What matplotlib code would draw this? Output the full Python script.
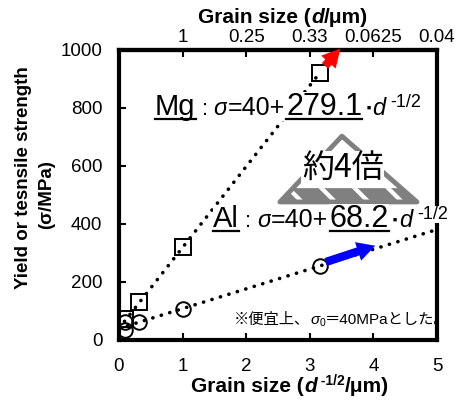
import matplotlib
matplotlib.use('Agg')
import matplotlib.pyplot as plt
from matplotlib.transforms import IdentityTransform
from matplotlib.lines import Line2D
from matplotlib.patches import Polygon, FancyArrowPatch

plt.rcParams['font.family'] = ['Liberation Sans', 'Noto Sans CJK JP']
plt.rcParams['hatch.linewidth'] = 3.0

# measured points
mg_x = [0.1, 0.32, 1.0, 3.16]
mg_y = [72, 130, 320, 921]
al_x = [0.1, 0.1, 0.32, 1.0, 3.16]
al_y = [33, 62, 62, 107, 256]

# Hall-Petch fits (sigma0 = 40)
mg_fit_x = [0, 3.16]
mg_fit_y = [40, 922]
al_fit_x = [0, 5]
al_fit_y = [40, 381]

x_ticks = [0, 1, 2, 3, 4, 5]
y_ticks = [0, 200, 400, 600, 800, 1000]
top_ticks = [1, 2, 3, 4, 5]
top_labels = ['1', '0.25', '0.33', '0.0625', '0.04']

red_arrow = [(3.21, 938), (3.51, 1012)]
blue_arrow = [(3.21, 266), (4.07, 328)]

W, H = 472, 400
fig = plt.figure(figsize=(W / 100, H / 100), dpi=100)
ax = fig.add_axes([119 / W, 60 / H, 318 / W, 290 / H])
renderer = fig.canvas.get_renderer()


def rich(target, x, y, pieces, ha='left', zorder=5, bg=True):
    # pieces: (text, size, options) laid out one after another on one baseline, pixel coords
    cx = x
    made = []
    for s, size, opts in pieces:
        opts = dict(opts)
        dy = opts.pop('dy', 0)
        gap = opts.pop('gap', 0)
        ul = opts.pop('ul', False)
        cx += gap
        kw = dict(transform=IdentityTransform(), fontsize=size, va='baseline', ha='left',
                  zorder=zorder, clip_on=False)
        if bg:
            kw['bbox'] = dict(facecolor='white', edgecolor='none', pad=0.3)
        kw.update(opts)
        t = target.text(cx, y + dy, s, **kw)
        bb = t.get_window_extent(renderer)
        made.append((t, ul, bb))
        cx = bb.x1
    shift = -(cx - x) / 2 if ha == 'center' else 0
    for t, ul, bb in made:
        px, py = t.get_position()
        t.set_position((px + shift, py))
        if ul:
            fig.add_artist(Line2D([bb.x0 + shift, bb.x1 + shift], [y - 4, y - 4],
                                  transform=IdentityTransform(), color='black', lw=1.6,
                                  zorder=zorder + 1))


dots = dict(color='black', lw=2.6, linestyle=(0, (0.05, 2.4)), dash_capstyle='round', zorder=2)
ax.plot(mg_fit_x, mg_fit_y, **dots)
ax.plot(al_fit_x, al_fit_y, **dots)
ax.plot(mg_x, mg_y, 's', ms=11, mfc='none', mec='black', mew=1.4, zorder=3)
ax.plot(al_x, al_y, 'o', ms=10.5, mfc='none', mec='black', mew=1.4, zorder=3)

for (p0, p1), col in [(red_arrow, 'red'), (blue_arrow, 'blue')]:
    ax.add_patch(FancyArrowPatch(p0, p1, arrowstyle='simple,head_length=13,head_width=14,tail_width=6',
                                 mutation_scale=1, color=col, lw=0, clip_on=False, zorder=6))

ax.set_xlim(0, 5)
ax.set_ylim(0, 1000)
ax.set_xticks(x_ticks)
ax.set_yticks(y_ticks)
ax.tick_params(direction='in', length=5, width=1.5, labelsize=13.5, pad=13)
ax.tick_params(axis='y', pad=12)
for sp in ax.spines.values():
    sp.set_linewidth(3)

top = ax.secondary_xaxis('top')
top.set_xticks(top_ticks, labels=top_labels)
top.tick_params(direction='in', length=5, width=1.5, labelsize=13.5, pad=3)
top.spines['top'].set_linewidth(3)

# triangle badge
apex, left, right = (0.701, 0.703), (0.506, 0.476), (0.937, 0.476)
band = 0.21
bl = (left[0] + band * (apex[0] - left[0]), left[1] + band * (apex[1] - left[1]))
br = (right[0] + band * (apex[0] - right[0]), right[1] + band * (apex[1] - right[1]))
ax.add_patch(Polygon([left, right, br, bl], closed=True, transform=ax.transAxes,
                     facecolor='#808080', edgecolor='white', lw=0, hatch='\\', zorder=3))
ax.add_patch(Polygon([left, right, apex], closed=True, transform=ax.transAxes, fill=False,
                     edgecolor='#808080', lw=3.5, joinstyle='round', zorder=3))
ax.text(0.704, 0.593, '約4倍', transform=ax.transAxes, fontsize=23, ha='center', va='center',
        family='Noto Sans CJK JP', zorder=4,
        bbox=dict(facecolor='white', edgecolor='none', pad=0.5))

# equations
def equation(name, coef):
    return [(name, 21, {'ul': True}), (':', 16, {'gap': 6}),
            ('σ', 17, {'style': 'italic', 'gap': 6}), ('=40+', 18, {}),
            (coef, 22, {'ul': True, 'gap': 1}), ('■', 5, {'dy': 5, 'gap': 4}),
            ('d', 17, {'style': 'italic', 'gap': 2}), ('-1/2', 13, {'dy': 8, 'gap': 5})]


rich(fig, 155, H - 115, equation('Mg', '279.1'))
rich(fig, 213, H - 227, equation('Al', '68.2'))

note = [('※便宜上、', 11, {}), ('σ', 11, {'style': 'italic'}), ('0', 7.5, {'dy': -2}),
        ('＝40MPaとした。', 11, {})]
rich(ax, 234, H - 324, note, zorder=2, bg=False)

# axis titles
bold = {'weight': 'bold'}
rich(fig, 290, 8, [('Grain size (', 15, bold), ('d', 15, {'weight': 'bold', 'style': 'italic'}),
                   (' -1/2', 10, {'weight': 'bold', 'dy': 7}), ('/μm)', 15, bold)],
     ha='center', bg=False)
rich(fig, 283, H - 23, [('Grain size (', 15, bold), ('d', 15, {'weight': 'bold', 'style': 'italic'}),
                        ('/μm)', 15, bold)], ha='center', bg=False)
fig.text(24 / W, 1 - 178 / H, 'Yield or tesnsile strength', rotation=90, ha='center', va='center',
         fontsize=13.5, weight='bold')
fig.text(47 / W, 1 - 195 / H, '(σ/MPa)', rotation=90, ha='center', va='center',
         fontsize=13.5, weight='bold')

fig.savefig('out.png', dpi=100)
